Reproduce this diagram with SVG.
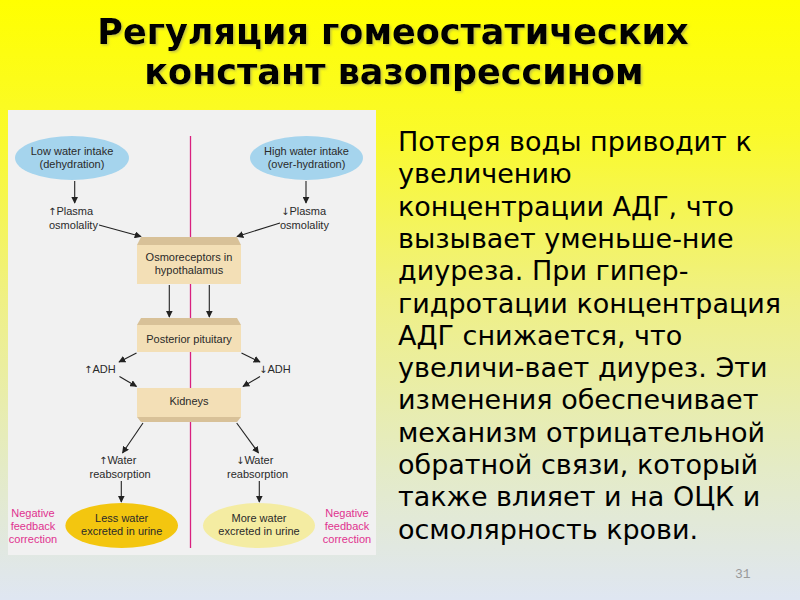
<svg xmlns="http://www.w3.org/2000/svg" width="800" height="600" viewBox="0 0 800 600">
<defs>
<linearGradient id="bg" x1="0" y1="0" x2="0" y2="1">
<stop offset="0" stop-color="#ffff00"/>
<stop offset="0.22" stop-color="#fafa2a"/>
<stop offset="0.5" stop-color="#eff085"/>
<stop offset="0.78" stop-color="#e4ebc6"/>
<stop offset="1" stop-color="#dfe6f2"/>
</linearGradient>
<filter id="sh" x="-5%" y="-20%" width="110%" height="150%">
<feDropShadow dx="1.5" dy="1.5" stdDeviation="0.8" flood-color="#8a8a6a" flood-opacity="0.5"/>
</filter>
<marker id="ah" viewBox="0 0 10 10" refX="9" refY="5" markerWidth="7" markerHeight="7" markerUnits="userSpaceOnUse" orient="auto">
<path d="M0,0 L10,5 L0,10 Z" fill="#222"/>
</marker>
<style>
.t{font-family:"Liberation Sans",Arial,sans-serif;font-size:11px;fill:#2a2a2a}
.ar{font-family:"DejaVu Sans",sans-serif;font-size:10px;fill:#2a2a2a}
.c{text-anchor:middle}
.pk{font-family:"Liberation Sans",Arial,sans-serif;font-size:11px;fill:#e0318f;text-anchor:middle}
.box{fill:#f3dfb6}
.bev{fill:#d8c198}
.ln{stroke:#222;stroke-width:1.1;fill:none;marker-end:url(#ah)}
.title{font-family:"DejaVu Sans",sans-serif;font-weight:bold;font-size:35px;fill:#000;text-anchor:middle}
.body{font-family:"DejaVu Sans",sans-serif;font-size:27px;fill:#000}
</style>
</defs>
<rect x="0" y="0" width="800" height="600" fill="url(#bg)"/>
<g id="title" filter="url(#sh)">
<text class="title" x="393" y="44">Регуляция гомеостатических</text>
<text class="title" x="394" y="84">констант вазопрессином</text>
</g>
<rect id="panel" x="8" y="110" width="368" height="445" fill="#f1f1f1"/>
<line id="divider" x1="190.5" y1="136" x2="190.5" y2="548" stroke="#d9207f" stroke-width="1.3"/>

<g id="low-intake">
<ellipse cx="72" cy="158" rx="57" ry="22" fill="#a5d4ed"/>
<text class="t c" x="72" y="155">Low water intake</text>
<text class="t c" x="72" y="168">(dehydration)</text>
</g>
<g id="high-intake">
<ellipse cx="306.5" cy="158" rx="56.5" ry="22" fill="#a5d4ed"/>
<text class="t c" x="306.5" y="155">High water intake</text>
<text class="t c" x="306.5" y="168">(over-hydration)</text>
</g>
<g id="plasma-up">
<text class="t" x="48" y="215"><tspan class="ar">↑</tspan>Plasma</text>
<text class="t" x="49" y="228.5">osmolality</text>
</g>
<g id="plasma-down">
<text class="t" x="281" y="215"><tspan class="ar">↓</tspan>Plasma</text>
<text class="t" x="280" y="228.5">osmolality</text>
</g>
<g id="osmoreceptors">
<path class="bev" d="M137,245 L141,237 L237,237 L241,245 Z"/>
<rect class="box" x="137" y="245" width="104" height="39"/>
<text class="t c" x="189" y="261">Osmoreceptors in</text>
<text class="t c" x="189" y="274">hypothalamus</text>
</g>
<g id="posterior-pituitary">
<path class="bev" d="M137,325 L141,318 L237,318 L241,325 Z"/>
<rect class="box" x="137" y="325" width="104" height="27"/>
<text class="t c" x="189" y="343">Posterior pituitary</text>
</g>
<g id="adh-up">
<text class="t" x="84" y="373"><tspan class="ar">↑</tspan>ADH</text>
</g>
<g id="adh-down">
<text class="t" x="259" y="373"><tspan class="ar">↓</tspan>ADH</text>
</g>
<g id="kidneys">
<rect class="box" x="137" y="388" width="104" height="29"/>
<path class="bev" d="M137,417 L141,422 L237,422 L241,417 Z"/>
<text class="t c" x="189" y="405">Kidneys</text>
</g>
<g id="water-up">
<text class="t" x="99" y="464"><tspan class="ar">↑</tspan>Water</text>
<text class="t" x="89.5" y="477.5">reabsorption</text>
</g>
<g id="water-down">
<text class="t" x="236" y="464"><tspan class="ar">↓</tspan>Water</text>
<text class="t" x="227" y="477.5">reabsorption</text>
</g>
<g id="less-water">
<ellipse cx="121.7" cy="525.5" rx="56.3" ry="22.5" fill="#f3c60f"/>
<text class="t c" x="121.7" y="522">Less water</text>
<text class="t c" x="121.7" y="534.5">excreted in urine</text>
</g>
<g id="more-water">
<ellipse cx="259" cy="525.5" rx="56" ry="22.5" fill="#f4eca2"/>
<text class="t c" x="259" y="522">More water</text>
<text class="t c" x="259" y="534.5">excreted in urine</text>
</g>
<g id="feedback-left">
<text class="pk" x="33" y="517">Negative</text>
<text class="pk" x="33" y="530">feedback</text>
<text class="pk" x="33" y="543">correction</text>
</g>
<g id="feedback-right">
<text class="pk" x="347" y="517">Negative</text>
<text class="pk" x="347" y="530">feedback</text>
<text class="pk" x="347" y="543">correction</text>
</g>

<g id="connectors">
<line class="ln" x1="74.7" y1="181" x2="74.7" y2="203"/>
<line class="ln" x1="306" y1="181" x2="306" y2="203"/>
<line class="ln" x1="99" y1="225" x2="141" y2="236.5"/>
<line class="ln" x1="280" y1="223" x2="237" y2="236.5"/>
<line class="ln" x1="169.3" y1="285" x2="169.3" y2="317"/>
<line class="ln" x1="209.3" y1="285" x2="209.3" y2="317"/>
<line class="ln" x1="136.5" y1="353" x2="119" y2="362"/>
<line class="ln" x1="119.5" y1="376.5" x2="136.5" y2="386.5"/>
<line class="ln" x1="241.5" y1="353" x2="260" y2="362"/>
<line class="ln" x1="260" y1="376.5" x2="243" y2="386.5"/>
<line class="ln" x1="143" y1="423" x2="122.5" y2="453"/>
<line class="ln" x1="236.7" y1="423" x2="258.5" y2="453"/>
<line class="ln" x1="121.3" y1="481" x2="121.3" y2="502"/>
<line class="ln" x1="259.3" y1="481" x2="259.3" y2="502"/>
</g>

<g id="body-text">
<text class="body" x="398" y="151">Потеря воды приводит к</text>
<text class="body" x="398" y="183.3">увеличению</text>
<text class="body" x="398" y="215.6">концентрации АДГ, что</text>
<text class="body" x="398" y="247.9">вызывает уменьше-ние</text>
<text class="body" x="398" y="280.2">диуреза. При гипер-</text>
<text class="body" x="398" y="312.5">гидротации концентрация</text>
<text class="body" x="398" y="344.8">АДГ снижается, что</text>
<text class="body" x="398" y="377.1">увеличи-вает диурез. Эти</text>
<text class="body" x="398" y="409.4">изменения обеспечивает</text>
<text class="body" x="398" y="441.7">механизм отрицательной</text>
<text class="body" x="398" y="474">обратной связи, который</text>
<text class="body" x="398" y="506.3">также влияет и на ОЦК и</text>
<text class="body" x="398" y="538.6">осмолярность крови.</text>
</g>
<text id="page-number" x="735" y="578" font-family="'Liberation Mono','DejaVu Sans Mono',monospace" font-size="13" fill="#9a9a9a">31</text>
</svg>
